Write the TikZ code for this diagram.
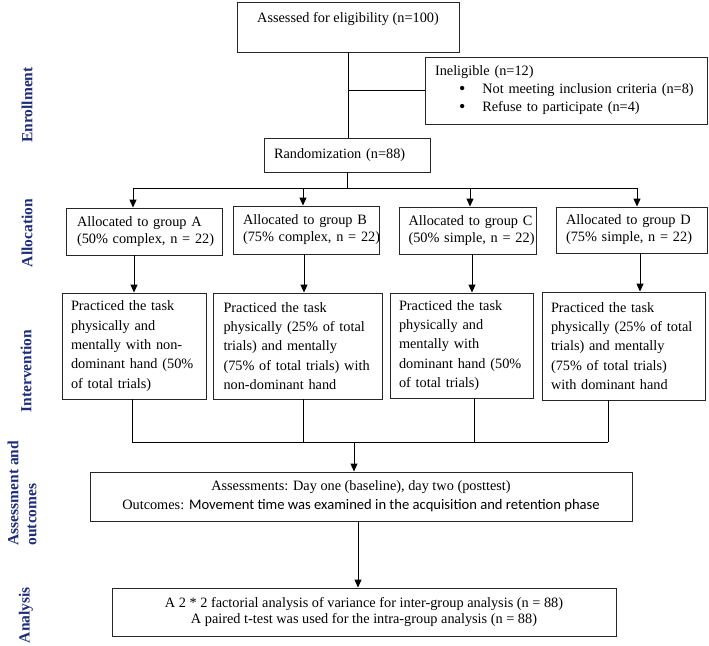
\documentclass[tikz,border=0pt]{standalone}
\usepackage{fontspec}
\setmainfont{Liberation Serif}
\newfontfamily\calibrifont{Carlito}
\usetikzlibrary{arrows.meta}
\definecolor{navy}{RGB}{30,45,120}
\newcommand\Lmb[1]{\mbox{#1}}
\newcommand\Bul{\raisebox{-0.5pt}{\fontsize{18}{18}\selectfont\textbullet}}
\begin{document}
\begin{tikzpicture}[x=1pt,y=-1pt,
  box/.style={draw=black!85, line width=0.9pt, inner sep=0pt, align=left},
  fs/.style={font=\fontsize{14.3}{#1}\selectfont},
  conn/.style={draw=black, line width=0.9pt},
  arr/.style={conn, -{Triangle[length=8pt,width=7pt]}},
  side/.style={text=navy, font=\fontsize{15.5}{18}\bfseries\selectfont, rotate=90}]
\useasboundingbox (0,0) rectangle (709,645);

% side labels
\node[side] (lEnr) at (27,105) {Enrollment};
\node[side] (lAll) at (27,233) {Allocation};
\node[side] (lInt) at (26,371) {Intervention};
\node[side, align=left, anchor=west] (lAss) at (22,549) {Assessment and\\outcomes};
\node[side] (lAna) at (26,615) {Analysis};

% enrollment
\node[box, fs=19, align=center, minimum width=222pt, minimum height=50pt] (elig) at (348,27)
  {Assessed for eligibility (n=100)\\\mbox{}};
\node[box, fs=18, text width=262pt, minimum width=282pt, minimum height=67pt] (inel) at (566,90.5)
  {\Lmb{Ineligible (n=12)}\\
   \Lmb{\hspace*{24pt}\Bul\hspace*{17pt}Not meeting inclusion criteria (n=8)}\\
   \Lmb{\hspace*{24pt}\Bul\hspace*{17pt}Refuse to participate (n=4)}};
\node[box, fs=17, text width=146pt, minimum width=166pt, minimum height=34pt] (rand) at (347,155)
  {\Lmb{Randomization (n=88)}};

% allocation
\node[box, fs=17, text width=134pt, minimum width=156pt, minimum height=47pt] (allocA) at (144,231.5)
  {\Lmb{Allocated to group A}\\\Lmb{(50\% complex, n = 22)}};
\node[box, fs=17, text width=126pt, minimum width=146pt, minimum height=48pt] (allocB) at (306,230)
  {\Lmb{Allocated to group B}\\\Lmb{(75\% complex, n = 22)}};
\node[box, fs=17, text width=118pt, minimum width=137pt, minimum height=47pt] (allocC) at (467.5,230.5)
  {\Lmb{Allocated to group C}\\\Lmb{(50\% simple, n = 22)}};
\node[box, fs=17, text width=131pt, minimum width=151pt, minimum height=46pt] (allocD) at (631.5,230)
  {\Lmb{Allocated to group D}\\\Lmb{(75\% simple, n = 22)}};

% intervention
\node[box, fs=19.3, text width=126pt, minimum width=144pt, minimum height=106pt] (intA) at (134,346)
  {\Lmb{Practiced the task}\\\Lmb{physically and}\\\Lmb{mentally with non-}\\\Lmb{dominant hand (50\%}\\\Lmb{of total trials)}};
\node[box, fs=19.3, text width=148pt, minimum width=169pt, minimum height=106pt] (intB) at (297.5,346)
  {\Lmb{Practiced the task}\\\Lmb{physically (25\% of total}\\\Lmb{trials) and mentally}\\\Lmb{(75\% of total trials) with}\\\Lmb{non-dominant hand}};
\node[box, fs=19.3, text width=125pt, minimum width=143pt, minimum height=105pt] (intC) at (461.5,345.5)
  {\Lmb{Practiced the task}\\\Lmb{physically and}\\\Lmb{mentally with}\\\Lmb{dominant hand (50\%}\\\Lmb{of total trials)}};
\node[box, fs=19.3, text width=145pt, minimum width=163pt, minimum height=108pt] (intD) at (623.5,346)
  {\Lmb{Practiced the task}\\\Lmb{physically (25\% of total}\\\Lmb{trials) and mentally}\\\Lmb{(75\% of total trials)}\\\Lmb{with dominant hand}};

% outcomes and analysis
\node[box, fs=19, align=center, minimum width=542pt, minimum height=49pt] (out) at (361,496.5)
  {Assessments: Day one (baseline), day two (posttest)\\
   Outcomes: {\calibrifont\fontsize{14.6}{19}\selectfont Movement time was examined in the acquisition and retention phase}};
\node[box, fs=16, align=center, minimum width=504pt, minimum height=48pt] (ana) at (364,612)
  {A 2 * 2 factorial analysis of variance for inter-group analysis (n = 88)\\
   A paired t-test was used for the intra-group analysis (n = 88)};

% enrollment connectors
\draw[conn] (elig.south) -- (elig.south |- rand.north);
\draw[conn] (elig.south |- inel.west) -- (inel.west);

% split to allocation
\coordinate (split) at (348,188);
\coordinate (ja) at (133,188);
\coordinate (jb) at (303,188);
\coordinate (jc) at (470,188);
\coordinate (jd) at (637,188);
\draw[conn] (rand.south) -- (rand.south |- split);
\draw[conn] (ja) -- (jd);
\draw[arr] (ja) -- (ja |- allocA.north);
\draw[arr] (jb) -- (jb |- allocB.north);
\draw[arr] (jc) -- (jc |- allocC.north);
\draw[arr] (jd) -- (jd |- allocD.north);

% allocation to intervention
\path ([xshift=-10pt]allocA.south) coordinate (aA)
      ([xshift=-2pt]allocB.south) coordinate (aB)
      ([xshift=4.5pt]allocC.south) coordinate (aC)
      ([xshift=8.5pt]allocD.south) coordinate (aD);
\draw[arr] (aA) -- (aA |- intA.north);
\draw[arr] (aB) -- (aB |- intB.north);
\draw[arr] (aC) -- (aC |- intC.north);
\draw[arr] (aD) -- (aD |- intD.north);

% intervention to merge
\coordinate (merge) at (354,442);
\path ([xshift=-2pt]intA.south) coordinate (tA)
      ([xshift=5.5pt]intB.south) coordinate (tB)
      ([xshift=12.5pt]intC.south) coordinate (tC)
      ([xshift=-15.5pt]intD.south) coordinate (tD);
\draw[conn] (tA) -- (tA |- merge);
\draw[conn] (tB) -- (tB |- merge);
\draw[conn] (tC) -- (tC |- merge);
\draw[conn] (tD) -- (tD |- merge);
\draw[conn] (tA |- merge) -- (tD |- merge);
\draw[arr] (merge) -- (merge |- out.north);

% outcomes to analysis
\path ([xshift=-3pt]out.south) coordinate (oS);
\draw[arr] (oS) -- (oS |- ana.north);
\end{tikzpicture}
\end{document}
